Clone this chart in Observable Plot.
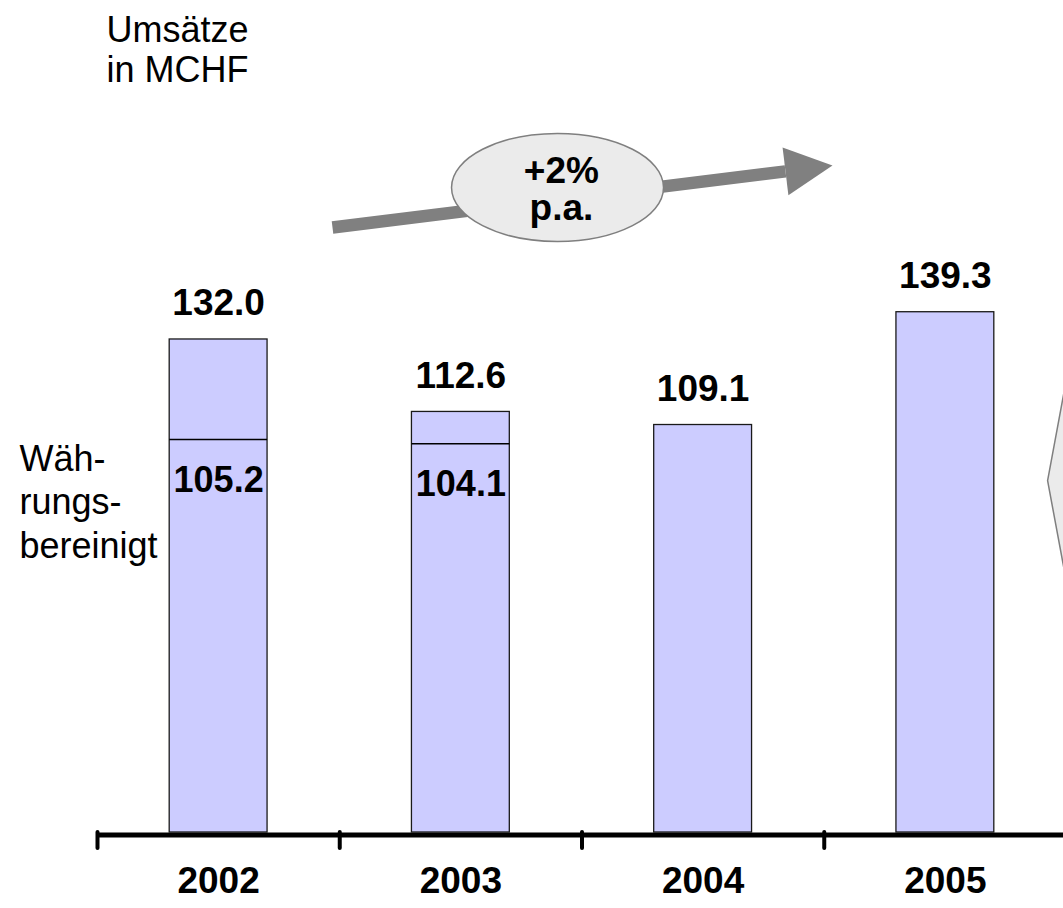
<!DOCTYPE html>
<html>
<head>
<meta charset="utf-8">
<script src="https://cdn.jsdelivr.net/npm/d3@7"></script>
<script src="https://cdn.jsdelivr.net/npm/@observablehq/plot@0.6"></script>
<style>
  html, body { margin: 0; padding: 0; background: #fff; overflow: hidden; }
</style>
</head>
<body>
<div id="chart"></div>
<script>
// Umsätze in MCHF per year; currency-adjusted values where reported
const years = [2002, 2003, 2004, 2005];
const yearLabels = ["2002", "2003", "2004", "2005"];
const revenue = [132.0, 112.6, 109.1, 139.3];
const currencyAdjusted = [105.2, 104.1, null, null];

// Growth annotation (+2% p.a.), in year / MCHF units
const growthLabel = "+2%\np.a.";
const growthShaft = [{x1: 2002.47, y1: 162.0, x2: 2004.34, y2: 177.0}];
const growthHead = [
  {x: 2004.328, y: 183.4},
  {x: 2004.534, y: 178.6},
  {x: 2004.352, y: 170.6}
];
const growthBubble = [{x: 2003.399, y: 172.7}];
const growthText = [{x: 2003.415, y: 163.9}];

// Callout shape cut off at the right edge
const calloutShape = [
  {x: 2005.537, y: 134.4},
  {x: 2005.422, y: 94.2},
  {x: 2005.537, y: 54.1},
  {x: 2005.7, y: 54.1},
  {x: 2005.7, y: 134.4}
];

const bars = years.map((year, i) => ({year, value: revenue[i], adjusted: currencyAdjusted[i]}));
const adjustedBars = bars.filter(d => d.adjusted != null);

// category boundaries carry the axis ticks
const tickBounds = [...years.map(y => y - 0.5), years[years.length - 1] + 0.5];

const half = 0.202; // half bar width, in years
const font = "'Liberation Sans', Arial, Helvetica, sans-serif";

// ellipse outline for the growth bubble
const ellipse = {
  draw(ctx) {
    const rx = 106, ry = 54, k = 0.5523;
    ctx.moveTo(rx, 0);
    ctx.bezierCurveTo(rx, ry * k, rx * k, ry, 0, ry);
    ctx.bezierCurveTo(-rx * k, ry, -rx, ry * k, -rx, 0);
    ctx.bezierCurveTo(-rx, -ry * k, -rx * k, -ry, 0, -ry);
    ctx.bezierCurveTo(rx * k, -ry, rx, -ry * k, rx, 0);
    ctx.closePath();
  }
};

const chart = Plot.plot({
  width: 1063,
  height: 908,
  marginLeft: 0,
  marginRight: 0,
  marginTop: 0,
  marginBottom: 76,
  style: {fontFamily: font, background: "#fff", color: "#000"},
  x: {domain: [2001.5, 2005.5], range: [97, 1066]},
  y: {domain: [0, 140], range: [832, 309.1], axis: null},
  marks: [
    // bars
    Plot.rectY(bars, {
      x1: d => d.year - half, x2: d => d.year + half, y1: 0, y2: "value",
      fill: "#ccccff", stroke: "#1a1a1a", strokeWidth: 1.3
    }),
    // currency-adjusted level inside the bar
    Plot.ruleY(adjustedBars, {
      y: "adjusted", x1: d => d.year - half, x2: d => d.year + half,
      stroke: "#000", strokeWidth: 1.5
    }),
    Plot.text(adjustedBars, {
      x: "year", y: "adjusted", text: d => d.adjusted.toFixed(1),
      lineAnchor: "top", dy: 27, fontSize: 36, fontWeight: "bold", fill: "#000"
    }),
    // totals above the bars
    Plot.text(bars, {
      x: "year", y: "value", text: d => d.value.toFixed(1),
      lineAnchor: "bottom", dy: -24, fontSize: 37, fontWeight: "bold", fill: "#000"
    }),
    // baseline and category ticks
    Plot.ruleY([0], {x1: tickBounds[0], x2: tickBounds[tickBounds.length - 1] + 0.5, stroke: "#000", strokeWidth: 5, dy: 2.5}),
    Plot.axisX(tickBounds, {tickSize: 16, tickFormat: () => "", stroke: "#000", strokeWidth: 4, strokeLinecap: "round"}),
    Plot.axisX(years, {
      tickSize: 0, tickPadding: 34, tickFormat: d => yearLabels[years.indexOf(d)],
      fontSize: 37, fontWeight: "bold", fill: "#000"
    }),
    // growth trend arrow with bubble
    Plot.link(growthShaft, {x1: "x1", y1: "y1", x2: "x2", y2: "y2", stroke: "#808080", strokeWidth: 12.5}),
    Plot.line(growthHead, {x: "x", y: "y", curve: "linear-closed", fill: "#808080", stroke: "none"}),
    Plot.dot(growthBubble, {x: "x", y: "y", r: 10, symbol: ellipse, fill: "#ebebeb", stroke: "#7f7f7f", strokeWidth: 1.5}),
    Plot.text(growthText, {
      x: "x", y: "y", text: () => growthLabel, lineAnchor: "bottom", lineHeight: 1.0,
      fontSize: 37, fontWeight: "bold", fill: "#000"
    }),
    // callout at the right edge
    Plot.line(calloutShape, {x: "x", y: "y", curve: "linear-closed", fill: "#ebebeb", stroke: "#7f7f7f", strokeWidth: 1.5}),
    // side captions
    Plot.text(["Umsätze\nin MCHF"], {
      frameAnchor: "top-left", dx: 106, dy: 13, lineAnchor: "top", textAnchor: "start",
      fontSize: 36, lineHeight: 1.11, fill: "#000"
    }),
    Plot.text(["Wäh-\nrungs-\nbereinigt"], {
      frameAnchor: "top-left", dx: 19, dy: 440, lineAnchor: "top", textAnchor: "start",
      fontSize: 36, lineHeight: 1.2, fill: "#000"
    })
  ]
});

document.getElementById("chart").appendChild(chart);
</script>
</body>
</html>
